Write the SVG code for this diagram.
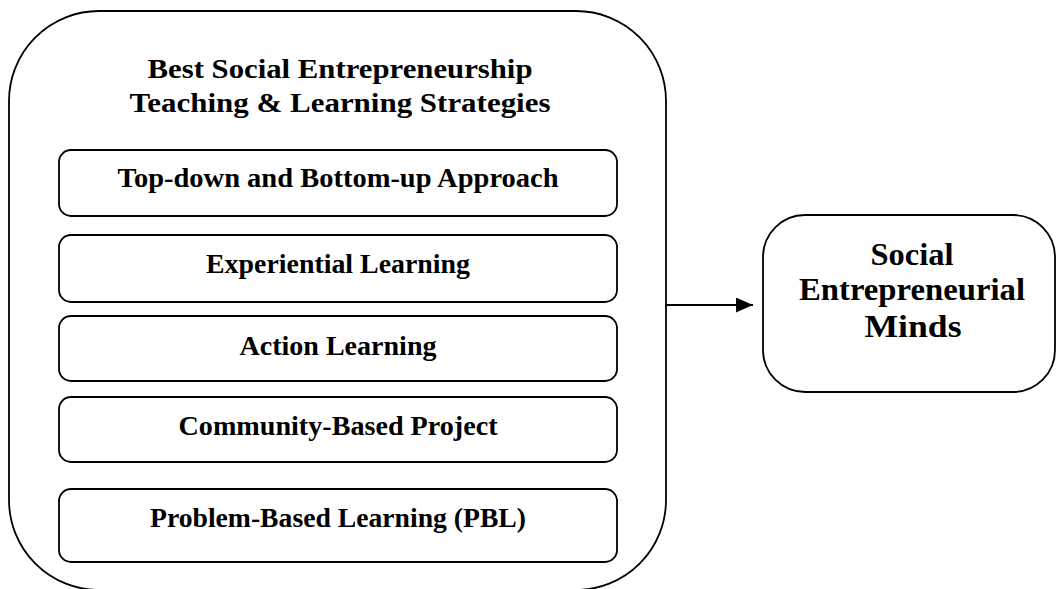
<svg xmlns="http://www.w3.org/2000/svg" width="1056" height="589" viewBox="0 0 1056 589">
<style>
.box{fill:#fff;stroke:#000;stroke-width:1.8}
.t{font-family:"Liberation Serif","Times New Roman",serif;font-weight:bold;fill:#000;text-anchor:middle}
.s{font-size:28px}
.b{font-size:32px}
.c{stroke:#000;stroke-width:2;fill:none}
</style>
<defs>
<marker id="ah" viewBox="0 0 17 15" refX="17" refY="7.5" markerWidth="17" markerHeight="15" markerUnits="userSpaceOnUse" orient="auto">
<path d="M0,0 L17,7.5 L0,15 z" fill="#000"/>
</marker>
</defs>
<g id="outer">
<rect class="box" x="9" y="11" width="657" height="579" rx="90" ry="90"/>
<text class="t s" x="340" y="78" textLength="385" lengthAdjust="spacingAndGlyphs">Best Social Entrepreneurship</text>
<text class="t s" x="340" y="112" textLength="421" lengthAdjust="spacingAndGlyphs">Teaching &amp; Learning Strategies</text>
</g>
<g id="n1"><rect class="box" x="59" y="150" width="558" height="66" rx="12"/><text class="t s" x="338" y="187" textLength="441" lengthAdjust="spacingAndGlyphs">Top-down and Bottom-up Approach</text></g>
<g id="n2"><rect class="box" x="59" y="235" width="558" height="67" rx="12"/><text class="t s" x="338" y="273" textLength="264" lengthAdjust="spacingAndGlyphs">Experiential Learning</text></g>
<g id="n3"><rect class="box" x="59" y="316" width="558" height="65" rx="12"/><text class="t s" x="338" y="355" textLength="197" lengthAdjust="spacingAndGlyphs">Action Learning</text></g>
<g id="n4"><rect class="box" x="59" y="397" width="558" height="65" rx="12"/><text class="t s" x="338" y="435" textLength="319" lengthAdjust="spacingAndGlyphs">Community-Based Project</text></g>
<g id="n5"><rect class="box" x="59" y="489" width="558" height="73" rx="12"/><text class="t s" x="338" y="527" textLength="376" lengthAdjust="spacingAndGlyphs">Problem-Based Learning (PBL)</text></g>
<g id="target"><rect class="box" x="763" y="215" width="292" height="177" rx="42"/>
<text class="t b" x="912" y="265" textLength="83" lengthAdjust="spacingAndGlyphs">Social</text>
<text class="t b" x="912" y="300" textLength="226" lengthAdjust="spacingAndGlyphs">Entrepreneurial</text>
<text class="t b" x="913" y="337" textLength="97" lengthAdjust="spacingAndGlyphs">Minds</text></g>
<g id="connectors"><line class="c" x1="666" y1="305" x2="753" y2="305" marker-end="url(#ah)"/></g>
</svg>
